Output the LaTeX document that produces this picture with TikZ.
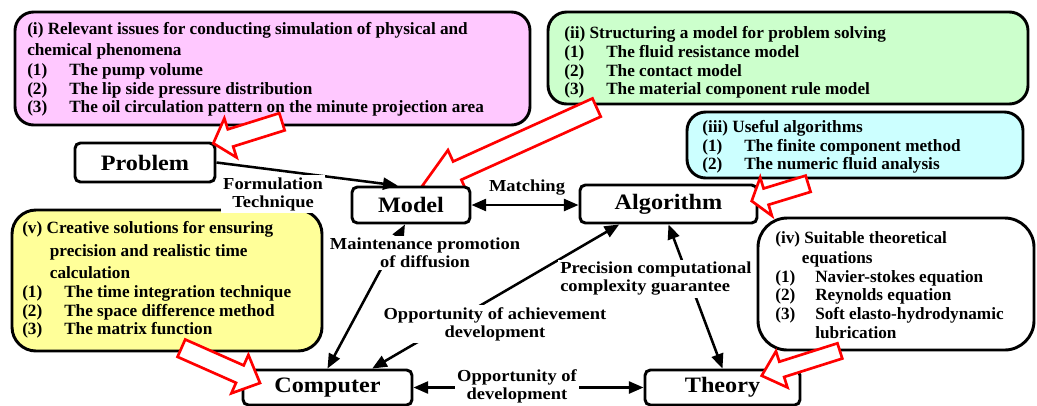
\documentclass[tikz,border=0pt]{standalone}
\usepackage{fontspec}
\setmainfont{Liberation Serif}
\newfontfamily\bigserif{Liberation Serif}[FakeStretch=1.1]
\usetikzlibrary{arrows.meta,fit,calc}
\definecolor{pinkc}{RGB}{255,200,255}
\definecolor{greenc}{RGB}{204,255,204}
\definecolor{cyanc}{RGB}{204,255,255}
\definecolor{yellowc}{RGB}{255,255,153}
\newcommand{\hollowarrow}[7]{%
  \begin{scope}[shift={(#1,#2)},rotate=#3]
  \draw[redarr] (0,0) -- (-#7,#6) -- (-#7,#5) -- (-#4,#5) -- (-#4,-#5) -- (-#7,-#5) -- (-#7,-#6) -- cycle;
  \end{scope}}
\newcommand{\lab}[1]{\makebox[31.5pt][l]{#1}}
\tikzset{
  bigbox/.style={draw=black, line width=2.2pt, rounded corners=14pt, inner sep=0pt},
  mainnode/.style={draw=black, line width=2.2pt, rounded corners=4pt, fill=white, inner sep=0pt,
    font=\bigserif\fontsize{16.5}{18}\selectfont\bfseries},
  txt/.style={anchor=west, inner sep=0pt, font=\fontsize{12.9}{14}\selectfont\bfseries},
  lbl/.style={fill=white, inner sep=1.5pt, align=center, font=\bigserif\fontsize{12.6}{13.5}\selectfont\bfseries},
  conn/.style={line width=1.9pt, {Triangle[length=11pt,width=9pt]}-{Triangle[length=11pt,width=9pt]}},
  conn1/.style={line width=1.9pt, -{Triangle[length=11pt,width=9pt]}},
  redarr/.style={draw=red, line width=2pt, fill=white, line join=miter},
}
\begin{document}
\begin{tikzpicture}[x=0.75pt,y=-0.75pt]
\useasboundingbox (0,0) rectangle (1037,405);
\fill[white] (0,0) rectangle (1037,405);
\clip (0,0) rectangle (1037,405);

% information boxes
\node[bigbox, fill=pinkc, fit={(15,12) (530,125)}] (bi) {};
\node[bigbox, fill=greenc, fit={(548,12) (1028,104)}] (bii) {};
\node[bigbox, fill=cyanc, fit={(687,112) (1023,178)}] (biii) {};
\node[bigbox, fill=white, rounded corners=22pt, fit={(758,218) (1034,350)}] (biv) {};
\node[bigbox, fill=yellowc, rounded corners=18pt, fit={(12,210) (322,351)}] (bv) {};

% (i)
\node[txt] (i1) at (27,30) {(i) Relevant issues for conducting simulation of physical and};
\node[txt] (i2) at (27,51) {chemical phenomena};
\node[txt] (i3) at (27,71) {\lab{(1)}The pump volume};
\node[txt] (i4) at (27,90) {\lab{(2)}The lip side pressure distribution};
\node[txt] (i5) at (27,108) {\lab{(3)}The oil circulation pattern on the minute projection area};
% (ii)
\node[txt] (ii1) at (564,34) {(ii) Structuring a model for problem solving};
\node[txt] (ii2) at (564,53) {\lab{(1)}The fluid resistance model};
\node[txt] (ii3) at (564,72) {\lab{(2)}The contact model};
\node[txt] (ii4) at (564,90) {\lab{(3)}The material component rule model};
% (iii)
\node[txt] (iii1) at (702,128) {(iii) Useful algorithms};
\node[txt] (iii2) at (702,147) {\lab{(1)}The finite component method};
\node[txt] (iii3) at (702,165) {\lab{(2)}The numeric fluid analysis};
% (iv)
\node[txt] (iv1) at (775,239) {(iv) Suitable theoretical};
\node[txt] (iv2) at (775,259) {\hspace{20pt}equations};
\node[txt] (iv3) at (775,278) {\makebox[30pt][l]{(1)}Navier-stokes equation};
\node[txt] (iv4) at (775,296) {\makebox[30pt][l]{(2)}Reynolds equation};
\node[txt] (iv5) at (775,315) {\makebox[30pt][l]{(3)}Soft elasto-hydrodynamic};
\node[txt] (iv6) at (775,333) {\hspace{30pt}lubrication};
% (v)
\node[txt] (v1) at (22,229) {(v) Creative solutions for ensuring};
\node[txt] (v2) at (22,252) {\hspace{20.7pt}precision and realistic time};
\node[txt] (v3) at (22,273) {\hspace{20.7pt}calculation};
\node[txt] (v4) at (22,293) {\lab{(1)}The time integration technique};
\node[txt] (v5) at (22,312) {\lab{(2)}The space difference method};
\node[txt] (v6) at (22,330) {\lab{(3)}The matrix function};

% red arrow into Model (partly hidden by the Model box)
\hollowarrow{421.7}{186.7}{204.35}{192}{10}{22.5}{39}

% main nodes
\node[mainnode, minimum width=105pt, minimum height=29.25pt] (problem) at (145,162.5) {Problem};
\node[mainnode, minimum width=88.5pt, minimum height=27pt] (model) at (411,205) {Model};
\node[mainnode, minimum width=132.75pt, minimum height=28.5pt] (algorithm) at (668.5,204) {Algorithm};
\node[mainnode, minimum width=126.75pt, minimum height=26.25pt] (computer) at (327.5,387.5) {Computer};
\node[mainnode, minimum width=116.25pt, minimum height=26.25pt] (theory) at (722.5,387.5) {Theory};

% connectors
\draw[conn1] (problem.east) -- ($(model.north west)!0.39!(model.north east)$);
\draw[conn] (model.east) -- (model.east -| algorithm.west);
\draw[conn] ($(model.south west)!0.45!(model.south east)$) -- (computer.north);
\draw[conn] ($(computer.north west)!0.76!(computer.north east)$) -- ($(algorithm.south west)!0.226!(algorithm.south east)$);
\draw[conn] (algorithm.south) -- (theory.north);
\draw[conn] (computer.east) -- (theory.west);

% connector labels
\node[lbl] (lform) at (273,194) {Formulation\\Technique};
\node[lbl] (lmatch) at (527,188) {Matching};
\node[lbl] (lmaint) at (425,253) {Maintenance promotion\\of diffusion};
\node[lbl] (lach) at (495,324) {Opportunity of achievement\\development};
\node[lbl, align=left, anchor=west] (lprec) at (558,279) {Precision computational\\complexity guarantee};
\node[lbl] (ldev) at (517,386) {Opportunity of\\development};

% red hollow arrows
\hollowarrow{213.3}{143.3}{197.4}{72}{9}{20.5}{18}
\hollowarrow{751.7}{201}{197}{59}{8.5}{20}{15}
\hollowarrow{761.7}{375.7}{197.6}{82}{8}{19}{21}
\hollowarrow{260}{383}{-23.9}{86}{9.5}{21}{22}
\end{tikzpicture}
\end{document}
